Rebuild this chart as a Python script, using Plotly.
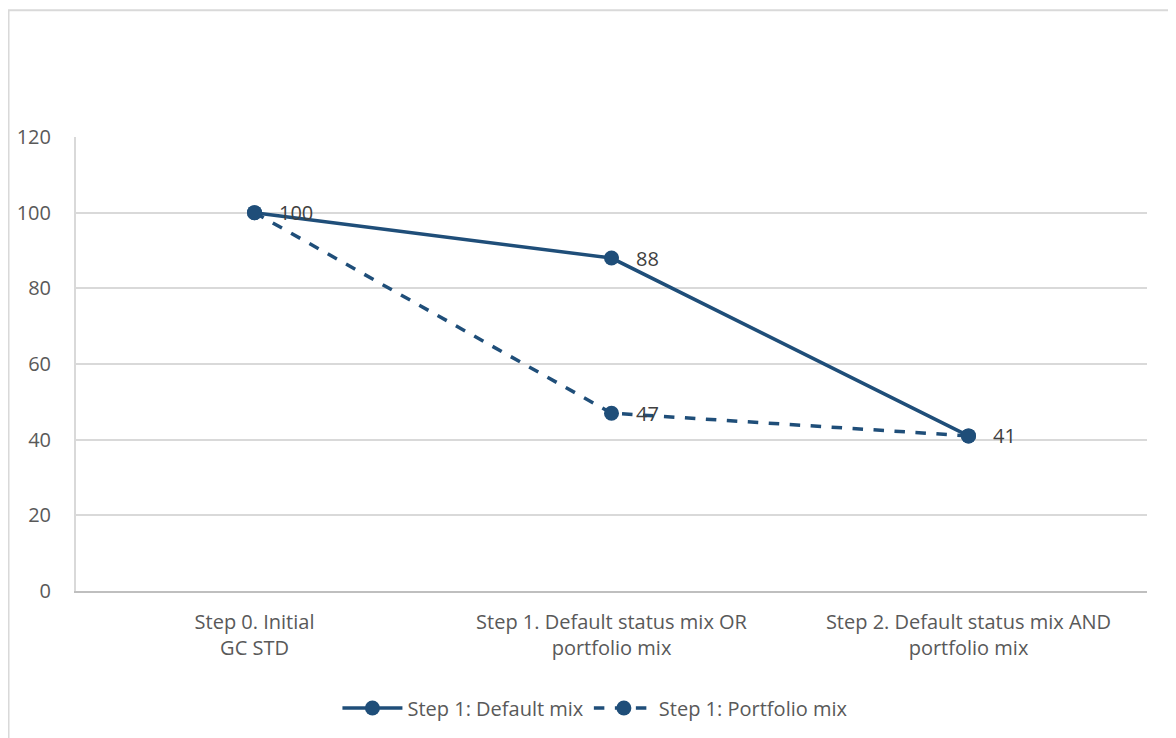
import plotly.graph_objects as go

# categories and series values
categories = ["Step 0. Initial<br>GC STD",
              "Step 1. Default status mix OR<br>portfolio mix",
              "Step 2. Default status mix AND<br>portfolio mix"]
default_mix = [100, 88, 41]
portfolio_mix = [100, 47, 41]
y_ticks = [0, 20, 40, 60, 80, 100, 120]

navy = "#1F4E79"
font_name = "Open Sans"

fig = go.Figure()

fig.add_trace(go.Scatter(
    x=categories, y=default_mix,
    mode="lines+markers",
    name="Step 1: Default mix",
    line=dict(color=navy, width=3.5),
    marker=dict(size=15, color=navy)
))

fig.add_trace(go.Scatter(
    x=categories, y=portfolio_mix,
    mode="lines+markers",
    name="Step 1: Portfolio mix",
    line=dict(color=navy, width=3.5, dash="dash"),
    marker=dict(size=15, color=navy)
))

# data labels to the right of the points (only the ones shown in the reference)
labels = [(categories[0], default_mix[0]), (categories[1], default_mix[1]),
          (categories[1], portfolio_mix[1]), (categories[2], default_mix[2])]
for cx, cy in labels:
    fig.add_annotation(x=cx, y=cy, text=str(cy), showarrow=False,
                       xanchor="left", yanchor="middle", xshift=22,
                       font=dict(family=font_name, size=20, color="#404040"))

# chart-area border (cropped at right and bottom in the reference)
fig.add_shape(type="rect", xref="paper", yref="paper",
              x0=-0.063, x1=1.05, y0=-0.40, y1=1.279,
              line=dict(color="#d9d9d9", width=2), fillcolor="rgba(0,0,0,0)",
              layer="below")

# page body adds an offset, so the figure is a bit smaller and margins shifted
fig.update_layout(
    width=1168, height=730,
    margin=dict(l=68, r=29, t=129, b=146),
    paper_bgcolor="white", plot_bgcolor="white",
    font=dict(family=font_name, size=20, color="#595959"),
    showlegend=True,
    legend=dict(orientation="h", x=0.485, xanchor="center",
                y=-0.255, yanchor="middle",
                font=dict(family=font_name, size=20, color="#595959"),
                itemwidth=60),
    xaxis=dict(
        showgrid=False, showline=True, linecolor="#bfbfbf", linewidth=2,
        ticks="", ticklabelstandoff=12, automargin=False,
        range=[-0.5, 2.5]
    ),
    yaxis=dict(
        range=[0, 120], tickvals=y_ticks,
        showgrid=True, gridcolor="#d9d9d9", gridwidth=2,
        showline=True, linecolor="#d9d9d9", linewidth=2,
        zeroline=False, ticks="", ticklabelstandoff=19, automargin=False
    ),
)

fig.write_html("out.html")
